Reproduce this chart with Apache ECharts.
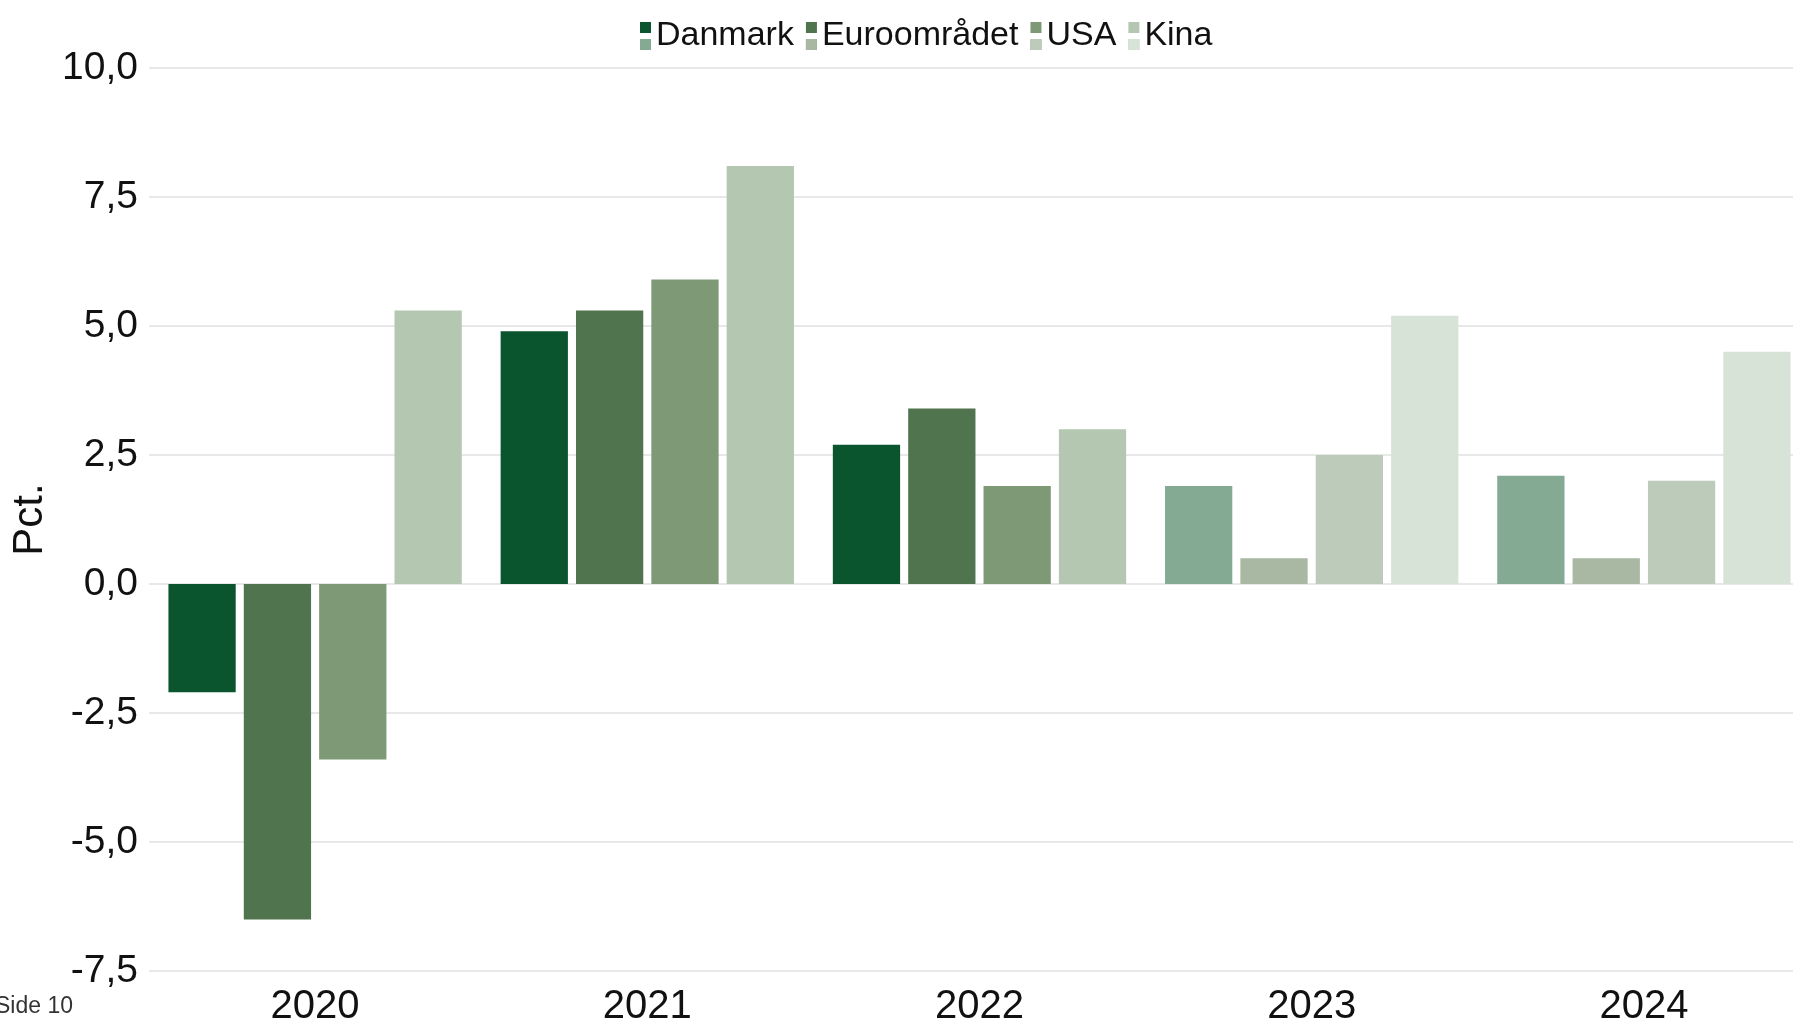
<!DOCTYPE html>
<html>
<head>
<meta charset="utf-8">
<script src="https://cdn.jsdelivr.net/npm/echarts@6/dist/echarts.min.js"></script>
<style>
  html, body { margin: 0; padding: 0; background: #fff; }
  #chart { width: 1793px; height: 1020px; }
</style>
</head>
<body>
<div id="chart"></div>
<script>
// data
const years = ['2020', '2021', '2022', '2023', '2024'];
const danmark = [-2.1, 4.9, 2.7, 1.9, 2.1];
const euro = [-6.5, 5.3, 3.4, 0.5, 0.5];
const usa = [-3.4, 5.9, 1.9, 2.5, 2.0];
const kina = [5.3, 8.1, 3.0, 5.2, 4.5];
const firstForecast = 3; // 2023 og frem er prognoser
const yTicks = [-7.5, -5, -2.5, 0, 2.5, 5, 7.5, 10];

const FONT = '"Liberation Sans", sans-serif';

// farver: [faktisk, prognose]
const seriesDefs = [
  { name: 'Danmark', data: danmark, colors: ['#0a552e', '#84aa94'] },
  { name: 'Euroområdet', data: euro, colors: ['#50744e', '#a8b8a2'] },
  { name: 'USA', data: usa, colors: ['#7e9975', '#bdccba'] },
  { name: 'Kina', data: kina, colors: ['#b4c7b0', '#d8e3d7'] }
];

const chart = echarts.init(document.getElementById('chart'));

// to legender oven i hinanden: faktisk (øverst) og prognose (nederst)
const legendBase = {
  left: 635,
  itemGap: 12,
  itemWidth: 11,
  textStyle: { fontFamily: FONT, fontSize: 34, color: '#111', lineHeight: 28 },
  selectedMode: false
};

chart.setOption({
  animation: false,
  textStyle: { fontFamily: FONT },
  legend: [
    Object.assign({}, legendBase, {
      top: 14,
      itemHeight: 28,
      icon: 'path://M0,0h11v11h-11zM0,17h11v11h-11z',
      data: seriesDefs.map(s => ({ name: s.name, itemStyle: { color: s.colors[0] } }))
    }),
    Object.assign({}, legendBase, {
      top: 22.5,
      itemHeight: 11,
      icon: 'path://M0,0h11v11h-11z',
      textStyle: Object.assign({}, legendBase.textStyle, { color: 'rgba(0,0,0,0)' }),
      data: seriesDefs.map(s => ({ name: s.name, itemStyle: { color: s.colors[1] } }))
    })
  ],
  grid: { left: 149, right: -17, top: 68, bottom: 49, containLabel: false, outerBoundsMode: 'none' },
  xAxis: {
    type: 'category',
    data: years,
    axisLine: { show: false },
    axisTick: { show: false },
    axisLabel: { fontSize: 40, color: '#111', margin: 16 }
  },
  yAxis: {
    type: 'value',
    min: yTicks[0],
    max: yTicks[yTicks.length - 1],
    interval: 2.5,
    name: 'Pct.',
    nameLocation: 'middle',
    nameRotate: 90,
    nameGap: 92,
    nameTextStyle: { fontSize: 42, color: '#111' },
    axisLabel: {
      fontSize: 39, color: '#111', margin: 11,
      formatter: v => v.toFixed(1).replace('.', ',')
    },
    splitLine: { lineStyle: { color: '#e0e0e0', width: 1.5 } }
  },
  series: seriesDefs.map(s => ({
    name: s.name,
    type: 'bar',
    barCategoryGap: '11.7%',
    barGap: '12%',
    itemStyle: { color: s.colors[0] },
    data: s.data.map((v, i) => ({
      value: v,
      itemStyle: { color: i >= firstForecast ? s.colors[1] : s.colors[0] }
    }))
  })),
  graphic: [{
    type: 'text',
    left: -5,
    top: 995,
    style: { text: 'Side 10', fontFamily: FONT, fontSize: 23, fill: '#333' }
  }]
});
</script>
</body>
</html>
